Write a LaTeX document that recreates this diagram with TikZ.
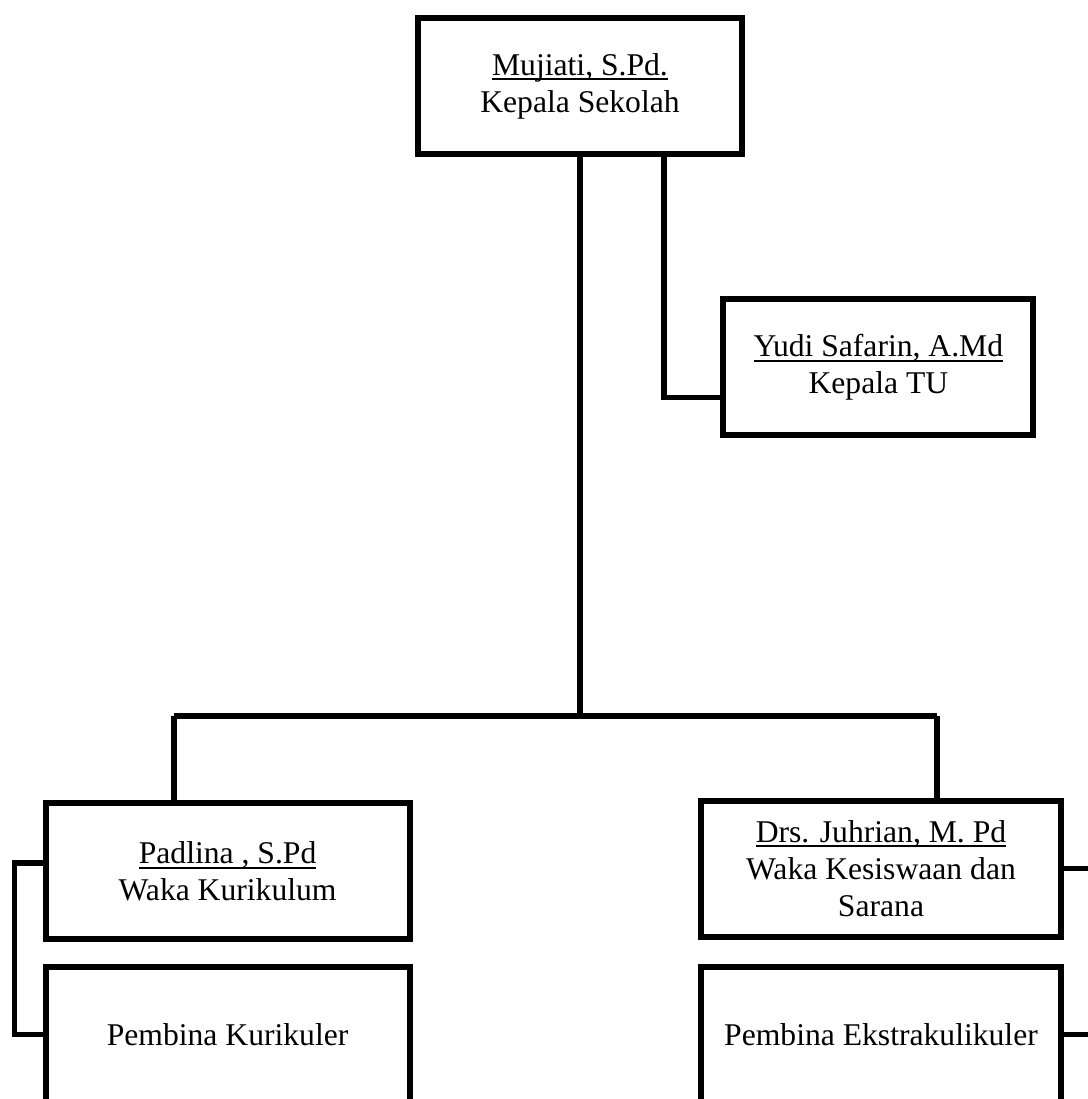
\documentclass[tikz,border=0pt]{standalone}
\usepackage{fontspec}
\setmainfont{Liberation Serif}
\usepackage{tikz}

\newcommand{\garisbawah}[1]{\setbox0\hbox{#1}\rlap{\vrule width\wd0 height -2.3pt depth 3.6pt}\box0}

\tikzset{
  jabatan/.style={rectangle,
      draw = black,
      line width = 4.2pt,
      align = center,
      font = \fontsize{22.5}{26.5}\selectfont,
      minimum height = 3.4cm},
  garis/.style={line width = 3.7pt}
}

\begin{document}
\begin{tikzpicture}
\useasboundingbox (0,0) rectangle (27.2,27.475);
\clip (0,0) rectangle (27.2,27.475);

% kepala sekolah
\node[jabatan, minimum width = 8.1cm] (kepsek) at (14.5,25.32) {\garisbawah{Mujiati, S.Pd.}\\Kepala Sekolah};

% tata usaha
\node[jabatan, minimum width = 7.75cm] (tu) at (21.96,18.29) {\garisbawah{Yudi Safarin, A.Md}\\Kepala TU};

% waka kurikulum
\node[jabatan, minimum width = 9.1cm] (kurikulum) at (5.69,5.69) {\garisbawah{Padlina , S.Pd}\\Waka Kurikulum};
\node[jabatan, minimum width = 9.1cm] (pembinaK) at (5.69,1.61) {Pembina Kurikuler};

% waka kesiswaan
\node[jabatan, minimum width = 9.0cm] (kesiswaan) at (22.025,5.76) {\garisbawah{Drs. Juhrian, M. Pd}\\Waka Kesiswaan dan\\Sarana};
\node[jabatan, minimum width = 9.0cm] (pembinaE) at (22.025,1.61) {Pembina Ekstrakulikuler};

% garis komando
\coordinate (barL) at (4.35,9.575);
\coordinate (barR) at (23.425,9.575);
\draw[garis] (kepsek.south) -- (kepsek.south |- barL);
\draw[garis] (barL) -- (barR);
\draw[garis] (barL) -- (barL |- kurikulum.north);
\draw[garis] (barR) -- (barR |- kesiswaan.north);
\draw[garis] ([xshift=2.1cm]kepsek.south) |- ([yshift=-0.76cm]tu.west);

% garis ke pembina
\draw[garis] ([yshift=0.21cm]kurikulum.west) -- ++(-0.7,0) |- (pembinaK.west);
\draw[garis] (kesiswaan.east) -- ++(1,0);
\draw[garis] (pembinaE.east) -- ++(1,0);

\end{tikzpicture}
\end{document}
